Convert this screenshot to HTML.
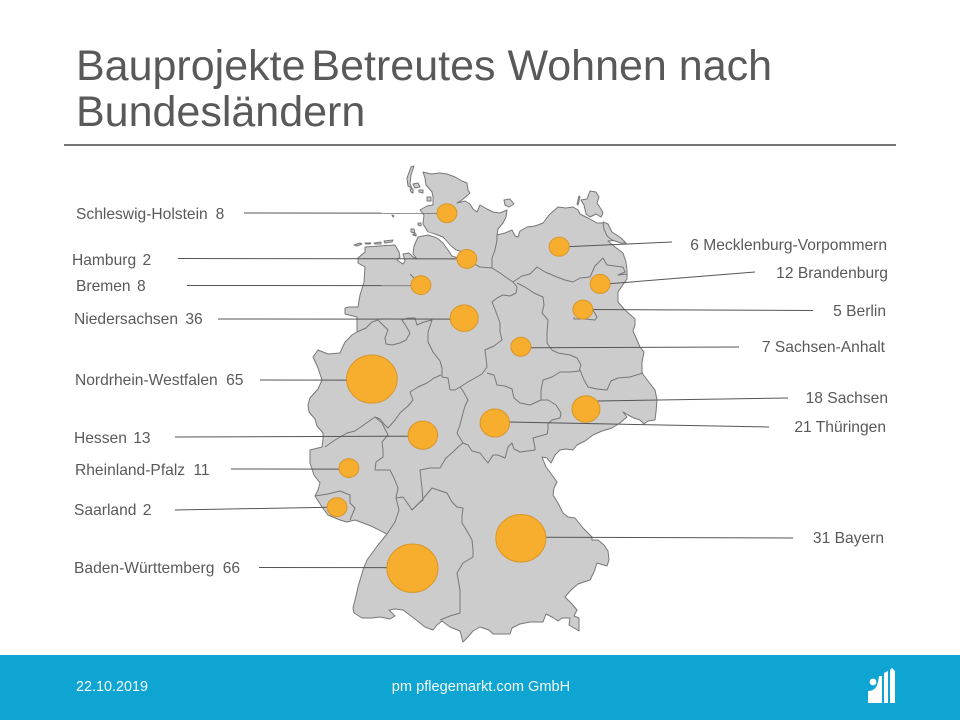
<!DOCTYPE html>
<html lang="de">
<head>
<meta charset="utf-8">
<title>Bauprojekte Betreutes Wohnen nach Bundesländern</title>
<style>
html,body{margin:0;padding:0;background:#fff}
body{width:960px;height:720px;overflow:hidden;position:relative;font-family:"Liberation Sans",sans-serif}
#title{position:absolute;left:76px;top:44px;width:800px;font-size:43px;line-height:45.5px;color:#595959}
#title span{word-spacing:-6px}
#rule{position:absolute;left:64px;top:144px;width:832px;height:2px;background:#757575}
#footer{position:absolute;left:0;top:655px;width:960px;height:65px;background:#0ea5d3}
#date{position:absolute;left:76px;top:24px;font-size:14.4px;line-height:16px;color:#f2fafd}
#company{position:absolute;left:320px;width:322px;text-align:center;top:24px;font-size:14.6px;line-height:16px;color:#f2fafd}
#map{position:absolute;left:0;top:0}
#map text{font-family:"Liberation Sans",sans-serif;font-size:15.6px;fill:#595959;white-space:pre}
</style>
</head>
<body>
<div id="title"><span>Bauprojekte Betreutes</span> Wohnen nach<br>Bundesländern</div>
<div id="rule"></div>

<svg id="map" width="960" height="720" viewBox="0 0 960 720">
  <g fill="#cccccc" stroke="#777" stroke-width="1" stroke-linejoin="round">
    <path d="M423,172 L431,174 L440,173 L447,174 L455,177 L462,181 L467,183 L468,190 L470,193 L462,200 L457,203 L465,201 L470,204 L473,209 L477,212 L480,205 L487,209 L493,212 L500,213 L507,210 L506,217 L503,223 L498,229 L497,235 L505,233 L512,230 L515,236 L518,237 L520,231 L527,227 L535,226 L543,223 L549,215 L558,207 L566,208 L573,207 L578,210 L580,214 L588,218 L597,223 L603,223 L608,228 L613,234 L620,240 L608,241 L615,247 L623,253 L626,262 L627,270 L627,279 L622,286 L618,292 L618,302 L625,310 L635,319 L635,325 L633,331 L637,340 L640,347 L644,352 L642,362 L642,373 L648,381 L655,390 L657,400 L656,412 L655,420 L648,421 L644,424 L640,420 L634,418 L628,415 L623,412 L627,417 L620,423 L612,428 L602,431 L593,435 L585,441 L577,445 L573,450 L566,449 L560,450 L555,455 L551,463 L547,458 L542,457 L546,467 L552,475 L557,482 L554,488 L553,495 L558,503 L563,513 L568,517 L575,518 L583,528 L592,537 L592,540 L598,540 L604,545 L608,551 L609,560 L607,566 L597,563 L594,572 L590,580 L578,584 L571,590 L565,597 L572,604 L577,610 L574,616 L579,618 L579,631 L569,625 L570,618 L562,618 L558,621 L552,617 L546,614 L543,622 L530,622 L520,624 L512,628 L510,634 L500,634 L493,634 L489,630 L480,627 L473,631 L467,638 L463,642 L460,631 L450,627 L442,621 L437,625 L433,630 L425,627 L415,619 L407,613 L403,610 L395,609 L389,610 L395,616 L390,619 L380,617 L372,618 L362,618 L354,613 L353,608 L356,596 L358,587 L363,570 L367,560 L378,545 L387,534 L371,526 L355,520 L347,522 L340,520 L335,518 L328,515 L322,507 L315,496 L318,490 L320,483 L314,475 L310,463 L310,450 L322,447 L323,440 L323,433 L317,426 L315,419 L309,412 L308,405 L310,398 L318,389 L322,380 L318,368 L313,357 L318,350 L328,354 L340,353 L345,342 L352,335 L357,332 L357,317 L345,314 L345,308 L349,307 L358,307 L360,295 L364,282 L365,267 L358,263 L358,258 L365,252 L365,247 L380,246 L395,245 L399,252 L400,257 L397,260 L403,264 L405,261 L403,254 L409,253 L413,257 L417,259 L413,254 L414,246 L418,237 L428,235 L437,238 L443,243 L448,250 L452,256 L458,258 L463,252 L456,250 L450,245 L443,237 L435,234 L428,232 L423,224 L424,215 L420,210 L427,206 L433,205 L433,197 L432,192 L426,185 L425,178 Z"/>
    <path d="M411,167 L414,166 L411,175 L410,184 L412,188 L408,186 L407,178 Z"/>
    <path d="M413,184 L418,183 L420,187 L415,188 Z"/>
    <path d="M410,189 L413,189 L413,193 L411,192 Z"/>
    <path d="M427,197 L431,197 L431,201 L427,201 Z"/>
    <path d="M419,190 L423,190 L423,193 L419,192 Z"/>
    <path d="M392,215 L394,216 L393,217 Z"/>
    <path d="M418,223 L421,223 L421,226 L418,225 Z"/>
    <path d="M411,229 L414,229 L415,233 L411,232 Z"/>
    <path d="M413,234 L416,234 L416,236 L413,235 Z"/>
    <path d="M354,245 L360,243 L362,244 L357,246 Z"/>
    <path d="M365,243 L371,243 L370,244 L366,244 Z"/>
    <path d="M374,243 L381,242 L381,244 L375,244 Z"/>
    <path d="M384,241 L393,240 L392,242 L385,243 Z"/>
    <path d="M504,200 L510,199 L514,204 L509,207 L505,205 Z"/>
    <path d="M590,191 L596,192 L599,197 L597,203 L601,209 L603,213 L601,217 L596,214 L590,217 L586,214 L584,205 L581,200 L587,199 Z"/>
    <path d="M579,196 L580,197 L578,205 L577,204 Z"/>
    <path d="M603,222 L608,224 L612,232 L621,238 L626,243 L621,243 L612,240 L607,236 L604,229 Z"/>
  </g>

  <path d="M428,233 L436,236 L444,240 L450,247 L456,253 L461,256" fill="none" stroke="#ffffff" stroke-width="2"/>

  <g fill="none" stroke="#777" stroke-width="1" stroke-linejoin="round">
    <path d="M458,257 L470,262 L480,267 L492,268 L492,258 L495,250 L497,240 L497,234"/>
    <path d="M492,268 L500,273 L507,278 L513,282 L522,276 L530,274 L537,267 L545,272 L557,277 L565,280 L573,282 L580,278 L590,277 L595,266 L603,258 L607,265 L615,266 L623,267 L625,272 L618,275 L627,274"/>
    <path d="M513,282 L517,287 L516,293 L510,296 L503,295 L497,298 L492,302 L496,312 L500,323 L500,332 L502,340 L494,346 L485,350 L486,358 L487,367 L482,374 L475,378 L468,382 L460,387"/>
    <path d="M517,283 L525,287 L534,293 L543,297 L544,305 L542,313 L548,320 L547,332 L547,343 L552,350 L558,353 L570,355 L577,358 L581,365 L579,371 L570,372 L560,372 L552,377 L543,380 L541,390 L541,400"/>
    <path d="M580,370 L584,380 L588,387 L597,389 L607,390 L611,381 L618,378 L630,377 L643,373"/>
    <path d="M487,373 L494,375 L497,385 L505,386 L512,389 L514,398 L520,403 L530,405 L541,400 L548,400 L556,405 L561,413 L560,418 L552,420 L548,424 L548,430 L547,434 L540,436 L533,438 L535,448 L535,450"/>
    <path d="M535,450 L528,451 L520,452 L514,449 L512,443 L508,447 L505,458 L498,455 L493,455 L488,463 L484,458 L480,453 L472,451 L468,445 L463,443 L457,433 L460,425 L463,413 L465,406 L468,400 L463,391 L460,387 L455,390 L450,390"/>
    <path d="M450,390 L448,378 L442,377 L442,368 L440,361 L433,352 L428,342 L428,332 L432,320 L424,322 L417,325 L415,318 L408,318 L402,320 L406,326 L410,333 L406,340 L400,343 L392,345 L386,344 L385,338 L388,330 L382,324 L378,320 L372,322 L366,328 L357,332"/>
    <path d="M410,392 L418,387 L427,383 L434,378 L441,375"/>
    <path d="M410,392 L413,400 L408,406 L400,413 L395,420 L388,428 L384,424 L380,419 L375,417 L365,424 L355,431 L347,433 L335,440 L325,447"/>
    <path d="M375,417 L382,423 L385,429 L388,435 L382,442 L383,450 L383,457 L376,462 L375,470 L383,470 L390,470 L394,478 L398,488 L396,498"/>
    <path d="M396,498 L399,510 L395,522 L387,534"/>
    <path d="M396,498 L403,497 L406,501 L412,510 L418,504 L423,500 L422,488 L420,470 L430,468 L440,468 L446,458 L453,452 L458,447 L463,443"/>
    <path d="M412,510 L422,500 L432,488 L438,490 L447,493 L452,502 L457,507 L463,508 L462,516 L462,523 L467,531 L472,540 L473,550 L473,557 L463,563 L457,573 L460,590 L460,613 L450,616 L440,620"/>
    <path d="M315,496 L328,494 L340,491 L350,495 L350,503 L355,508 L350,520"/>
    <path d="M410,274 L414,278 L419,279"/>
    <path d="M574,317 L574,319 L585,319 L595,320 L597,317 L593,310"/>
  </g>

  <g id="leaders" stroke="#555" stroke-width="1" fill="none">
    <line data-i="0" data-dy="0" x1="244" y1="213"/>
    <line data-i="1" data-dy="0" x1="178" y1="258.5"/>
    <line data-i="2" data-dy="0.5" x1="187" y1="285.5"/>
    <line data-i="3" data-dy="1" x1="218" y1="319"/>
    <line data-i="4" data-dy="1" x1="260" y1="380"/>
    <line data-i="5" data-dy="1" x1="175" y1="437"/>
    <line data-i="6" data-dy="1" x1="231" y1="469"/>
    <line data-i="7" data-dy="0" x1="175" y1="510"/>
    <line data-i="8" data-dy="-0.5" x1="259" y1="567.5"/>
    <line data-i="9" data-dy="-1" x1="793" y1="538"/>
    <line data-i="10" data-dy="-8" x1="788" y1="398"/>
    <line data-i="11" data-dy="-1" x1="769" y1="427"/>
    <line data-i="12" data-dy="1" x1="739" y1="347"/>
    <line data-i="13" data-dy="0" x1="813" y1="310.5"/>
    <line data-i="14" data-dy="0" x1="755" y1="272"/>
    <line data-i="15" data-dy="0" x1="672" y1="242"/>
  </g>

  <g id="bubbles"></g>

  <g id="labels">
    <text data-i="0" data-side="left" data-dx="3.5" x="76" y="219"></text>
    <text data-i="1" data-side="left" data-dx="2" x="72" y="265"></text>
    <text data-i="2" data-side="left" data-dx="2" x="76" y="291"></text>
    <text data-i="3" data-side="left" data-dx="3" x="74" y="324"></text>
    <text data-i="4" data-side="left" data-dx="4" x="75" y="385"></text>
    <text data-i="5" data-side="left" data-dx="2" x="74" y="443"></text>
    <text data-i="6" data-side="left" data-dx="4" x="75" y="475"></text>
    <text data-i="7" data-side="left" data-dx="2" x="74" y="515"></text>
    <text data-i="8" data-side="left" data-dx="4" x="74" y="573"></text>
    <text data-i="9" data-side="right" x="884" y="543"></text>
    <text data-i="10" data-side="right" x="888" y="403"></text>
    <text data-i="11" data-side="right" x="886" y="432"></text>
    <text data-i="12" data-side="right" x="885" y="352"></text>
    <text data-i="13" data-side="right" x="886" y="316"></text>
    <text data-i="14" data-side="right" x="888" y="278"></text>
    <text data-i="15" data-side="right" x="887" y="250"></text>
  </g>
</svg>

<div id="footer">
  <div id="date">22.10.2019</div>
  <div id="company">pm pflegemarkt.com GmbH</div>
  <svg style="position:absolute;left:866px;top:12px" width="30" height="38" viewBox="0 0 30 38">
    <circle cx="7" cy="15" r="3.4" fill="#fff"/>
    <path d="M2,36 V24 C10,24 12,18 13,9 H16 V36 Z" fill="#fff"/>
    <path d="M18,36 V6 L22,4 V36 Z" fill="#fff"/>
    <path d="M24,36 V3 L26,1 L29,4 V36 Z" fill="#fff"/>
  </svg>
</div>

<script>
var states = ["Schleswig-Holstein","Hamburg","Bremen","Niedersachsen","Nordrhein-Westfalen","Hessen","Rheinland-Pfalz","Saarland","Baden-Württemberg","Bayern","Sachsen","Thüringen","Sachsen-Anhalt","Berlin","Brandenburg","Mecklenburg-Vorpommern"];
var values = [8,2,8,36,65,13,11,2,66,31,18,21,7,5,12,6];
var areaFactors = [1.25,5,1.25,0.55,1,1.7,0.9,5,1,2.05,1.1,1.05,1.45,2,0.85,1.7];
var longitudes = [9.55,10.07,8.87,10.0,7.59,8.92,6.99,6.68,8.65,11.48,13.18,10.8,11.48,13.1,13.55,12.48];
var latitudes = [54.3,53.55,53.12,52.58,51.58,50.66,50.12,49.48,48.48,48.97,51.09,50.86,52.11,52.72,53.14,53.75];

var NS = "http://www.w3.org/2000/svg";
function xScale(lon){ return 306 + (lon - 5.87) * 38.3; }
function yScale(lat){ return 642 - (lat - 47.27) * 61; }
function rScale(v){ return 3.14 * Math.sqrt(v); }

var bubbleLayer = document.getElementById("bubbles");
states.forEach(function(name, i){
  var cx = xScale(longitudes[i]);
  var cy = yScale(latitudes[i]);
  var r = rScale(values[i] * areaFactors[i]);
  var el = document.createElementNS(NS, "ellipse");
  el.setAttribute("cx", cx);
  el.setAttribute("cy", cy);
  el.setAttribute("rx", r);
  el.setAttribute("ry", r * 0.95);
  el.setAttribute("fill", "#f7ae2e");
  el.setAttribute("stroke", "#d8962a");
  el.setAttribute("stroke-width", "1");
  
  
  bubbleLayer.appendChild(el);

  var line = document.querySelector('#leaders line[data-i="' + i + '"]');
  var x1 = parseFloat(line.getAttribute("x1"));
  var edge = x1 < cx ? cx - r + 3 : cx + r - 3;
  line.setAttribute("x2", edge);
  line.setAttribute("y2", cy + parseFloat(line.getAttribute("data-dy")));

  var label = document.querySelector('#labels text[data-i="' + i + '"]');
  if (label.getAttribute("data-side") === "left") {
    label.setAttribute("text-anchor", "start");
    label.textContent = name + " ";
    var num = document.createElementNS(NS, "tspan");
    num.setAttribute("dx", label.getAttribute("data-dx"));
    num.textContent = values[i];
    
    
    label.appendChild(num);
  } else {
    label.setAttribute("text-anchor", "end");
    label.textContent = values[i] + " " + name;
  }
});
</script>
</body>
</html>
